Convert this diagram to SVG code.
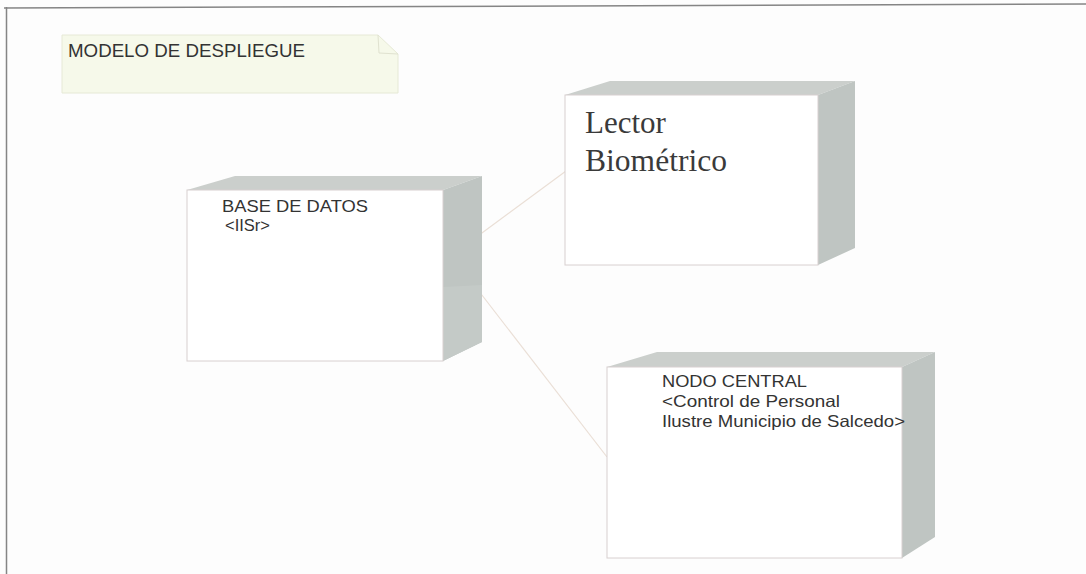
<svg xmlns="http://www.w3.org/2000/svg" width="1086" height="574" viewBox="0 0 1086 574">
  <style>
    .frame { stroke: #858585; stroke-width: 1.5; fill: none; }
    .front { fill: #ffffff; stroke: #d8d0d0; stroke-width: 1; }
    .top { fill: #cbcfcc; stroke: none; }
    .side { fill: #bfc5c2; stroke: none; }
    .conn { stroke: #eadfd6; stroke-width: 1.2; fill: none; }
    .sans { font-family: "Liberation Sans", Arial, sans-serif; fill: #333333; }
    .serif { font-family: "Liberation Serif", "Times New Roman", serif; fill: #3a3a3a; }
  </style>
  <rect x="0" y="0" width="1086" height="574" fill="#fdfdfd"/>
  <g id="frame">
    <line class="frame" x1="4" y1="8" x2="1086" y2="4"/>
    <line class="frame" x1="6.5" y1="7" x2="6.5" y2="574"/>
  </g>
  <g id="note">
    <path d="M62,35 L378,35 L398,54 L398,93 L62,93 Z" fill="#f6f9ea" stroke="#e6e9d6" stroke-width="1"/>
    <path d="M378,35 L379,53 L398,54" fill="none" stroke="#e0e2d0" stroke-width="1"/>
    <text class="sans" x="68" y="57" font-size="18" textLength="237" lengthAdjust="spacingAndGlyphs">MODELO DE DESPLIEGUE</text>
  </g>
  <g id="connectors">
    <line class="conn" x1="463" y1="247" x2="585" y2="157"/>
    <line class="conn" x1="468" y1="277" x2="607" y2="457"/>
  </g>
  <g id="base-de-datos">
    <polygon class="top" points="187,190 235,176 482,176 443,190"/>
    <polygon class="side" points="443,190 482,176 482,342 443,361"/>
    <polygon points="443,287 482,285 482,342 443,361" fill="#c4cac7"/>
    <rect class="front" x="187" y="190" width="256" height="171"/>
    <text class="sans" x="222" y="212" font-size="16.5" textLength="146" lengthAdjust="spacingAndGlyphs">BASE DE DATOS</text>
    <text class="sans" x="225" y="231" font-size="16.5">&lt;IISr&gt;</text>
  </g>
  <g id="lector-biometrico">
    <polygon class="top" points="565,95 610,81 855,81 818,95"/>
    <polygon class="side" points="818,95 855,81 855,248 818,265"/>
    <rect class="front" x="565" y="95" width="253" height="170"/>
    <text class="serif" x="585" y="133" font-size="31">Lector</text>
    <text class="serif" x="585" y="171" font-size="31" textLength="142" lengthAdjust="spacingAndGlyphs">Biométrico</text>
  </g>
  <g id="nodo-central">
    <polygon class="top" points="607,367 657,352 935,352 902,367"/>
    <polygon class="side" points="902,367 935,352 935,537 902,558"/>
    <rect class="front" x="607" y="367" width="295" height="191"/>
    <text class="sans" x="662" y="387" font-size="16.5" textLength="145" lengthAdjust="spacingAndGlyphs">NODO CENTRAL</text>
    <text class="sans" x="662" y="407" font-size="16.5" textLength="178" lengthAdjust="spacingAndGlyphs">&lt;Control de Personal</text>
    <text class="sans" x="662" y="427" font-size="16.5" textLength="243" lengthAdjust="spacingAndGlyphs">Ilustre Municipio de Salcedo&gt;</text>
  </g>
</svg>
